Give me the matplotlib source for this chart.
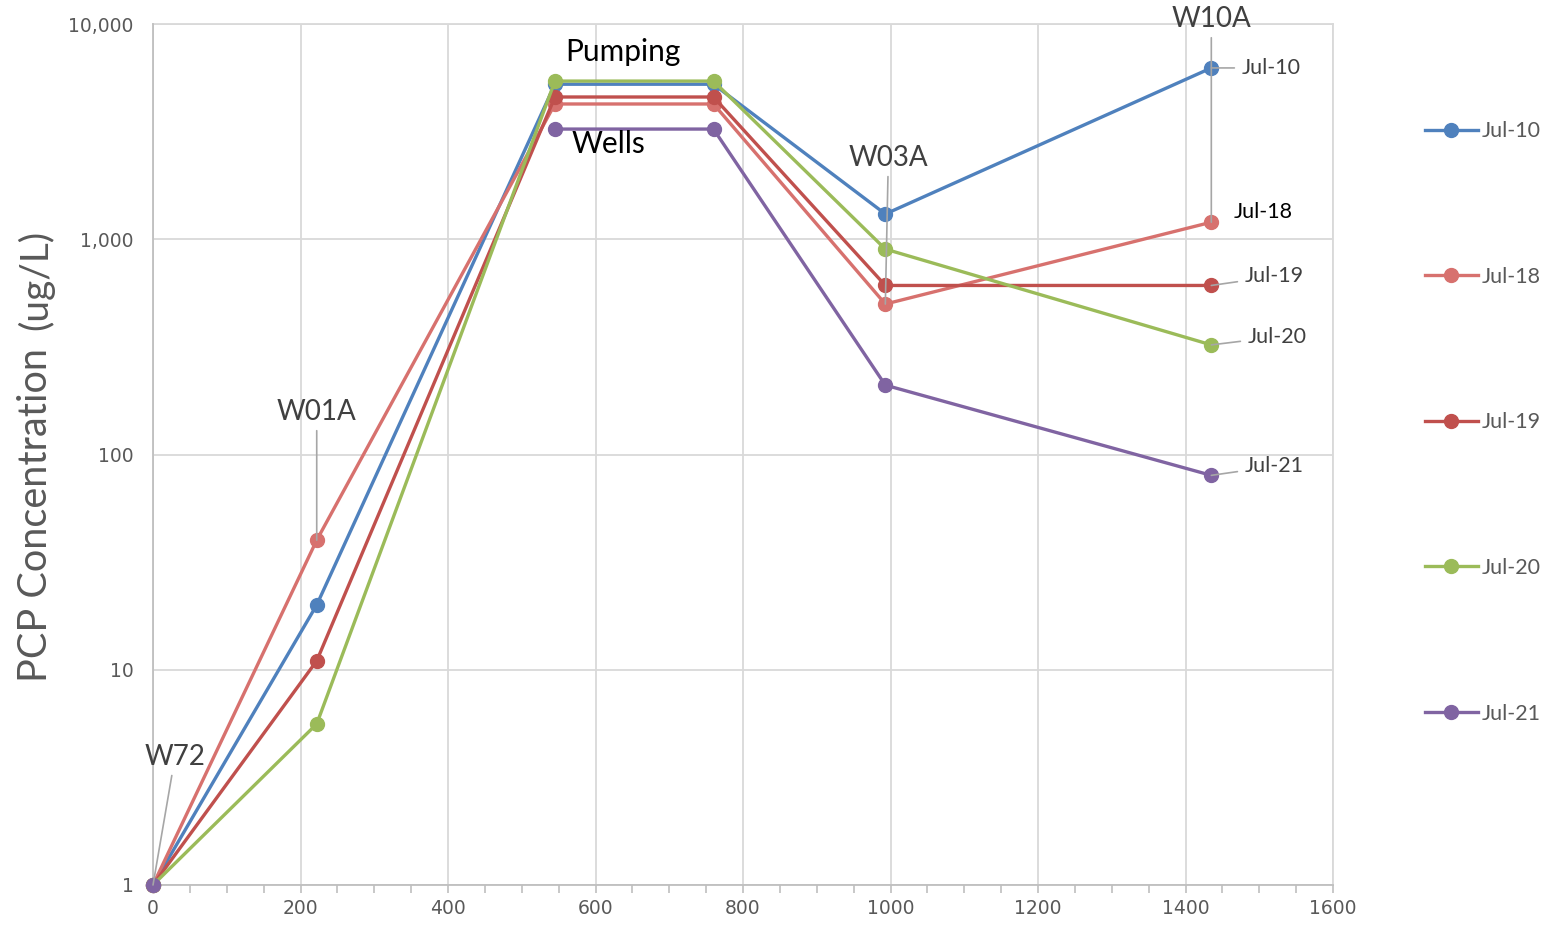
import numpy as np
import matplotlib
matplotlib.use("Agg")
import matplotlib.pyplot as plt
from matplotlib.ticker import FixedLocator, MultipleLocator, FuncFormatter, NullLocator

# ---- data ----
distance = [0, 222, 545, 760, 993, 1435]
series_names = ["Jul-10", "Jul-18", "Jul-19", "Jul-20", "Jul-21"]
jul10 = [1, 20, 5250, 5250, 1310, 6250]
jul18 = [1, 40, 4250, 4250, 500, 1200]
jul19 = [1, 11, 4580, 4580, 610, 610]
jul20 = [1, 5.6, 5430, 5430, 900, 323]
jul21 = [1, np.nan, 3250, 3250, 210, 80]
series_values = [jul10, jul18, jul19, jul20, jul21]
colors = ["#4F81BD", "#D7716E", "#C0504D", "#9BBB59", "#8064A2"]
x_ticks = [0, 200, 400, 600, 800, 1000, 1200, 1400, 1600]
y_ticks = [1, 10, 100, 1000, 10000]

FONT = ["Lato", "DejaVu Sans"]

fig = plt.figure(figsize=(15.53, 9.39), dpi=100)
ax = fig.add_axes([153/1553, 1-885/939, (1333-153)/1553, (885-24)/939])

for name, vals, c in zip(series_names, series_values, colors):
    ax.plot(distance, vals, color=c, lw=2.4, marker="o", ms=10, label=name,
            zorder=3, clip_on=False)

ax.set_yscale("log")
ax.set_xlim(0, 1600)
ax.set_ylim(1, 10000)
ax.xaxis.set_major_locator(FixedLocator(x_ticks))
ax.xaxis.set_minor_locator(MultipleLocator(50))
ax.yaxis.set_major_locator(FixedLocator(y_ticks))
ax.yaxis.set_minor_locator(NullLocator())
ax.yaxis.set_major_formatter(FuncFormatter(lambda v, p: f"{int(v):,}"))
ax.grid(True, which="major", color="#D9D9D9", lw=1.3, zorder=0)
for s in ["top", "right"]:
    ax.spines[s].set_visible(False)
for s in ["left", "bottom"]:
    ax.spines[s].set_color("#BFBFBF")
    ax.spines[s].set_linewidth(1.3)
ax.tick_params(axis="x", which="both", direction="out", length=6, color="#BFBFBF",
               width=1.2, labelsize=13.5, labelcolor="#595959", pad=4)
ax.tick_params(axis="y", which="both", length=0, labelsize=13.5, labelcolor="#595959", pad=14)
ax.axhline(10000, color="#D9D9D9", lw=1.3, zorder=0, clip_on=False)
ax.axvline(1600, color="#D9D9D9", lw=1.3, zorder=0, clip_on=False)

# ---- y label: two sizes sharing one baseline ----
fig.canvas.draw()
renderer = fig.canvas.get_renderer()


def fit_text(x_px, y_px, s, target_len, size0):
    t = fig.text(x_px/1553, 1-y_px/939, s, rotation=90, rotation_mode="anchor",
                 ha="left", va="baseline", fontsize=size0, color="#595959", family=FONT)
    L = t.get_window_extent(renderer).height
    t.set_fontsize(size0*target_len/L)
    return t

t1 = fit_text(47, 682, "PCP Concentration", 335, 28)
t2 = fit_text(47, 330, "(ug/L)", 100, 22)

lead = dict(arrowstyle="-", color="#A6A6A6", lw=1.2, shrinkA=2, shrinkB=0)
big = dict(fontsize=20, color="#404040", family=FONT, ha="center", va="center")

ax.annotate("W72", xy=(distance[0], jul10[0]), xytext=(22, 128), textcoords="offset pixels",
            arrowprops=lead, **big)
ax.annotate("W01A", xy=(distance[1], jul18[1]), xytext=(0, 128), textcoords="offset pixels",
            arrowprops=lead, **big)
ax.annotate("W03A", xy=(distance[4], jul18[4]), xytext=(3, 146), textcoords="offset pixels",
            arrowprops=lead, **big)
ax.annotate("W10A", xy=(distance[5], jul18[5]), xytext=(0, 203), textcoords="offset pixels",
            arrowprops=lead, annotation_clip=False, **big)
ax.annotate("Pumping", xy=(distance[2], jul20[2]), xytext=(68, 29), textcoords="offset pixels",
            fontsize=21.5, color="black", family=FONT, ha="center", va="center")
ax.annotate("Wells", xy=(distance[2], jul21[2]), xytext=(53, -15), textcoords="offset pixels",
            fontsize=21.5, color="black", family=FONT, ha="center", va="center")

small = dict(fontsize=15.5, color="#404040", family=FONT, ha="left", va="center")
end_offsets = [(30, 0), (22, 10), (33, 9), (36, 8), (33, 9)]
for name, vals, off in zip(series_names, series_values, end_offsets):
    if name == "Jul-18":
        ax.annotate(name, xy=(distance[-1], vals[-1]), xytext=off, textcoords="offset pixels",
                    fontsize=15.5, color="black", family=FONT, ha="left", va="center")
    else:
        ax.annotate(name, xy=(distance[-1], vals[-1]), xytext=off, textcoords="offset pixels",
                    arrowprops=dict(arrowstyle="-", color="#A6A6A6", lw=1.2, shrinkA=3, shrinkB=0),
                    **small)

leg = fig.legend(loc="center left", bbox_to_anchor=(1425/1553, 1-422.5/939),
                 frameon=False, borderpad=0, borderaxespad=0, labelspacing=5.83,
                 handlelength=2.44, handletextpad=0.18, prop={"family": FONT, "size": 15.5},
                 labelcolor="#595959")

fig.savefig("out.png", dpi=100)
